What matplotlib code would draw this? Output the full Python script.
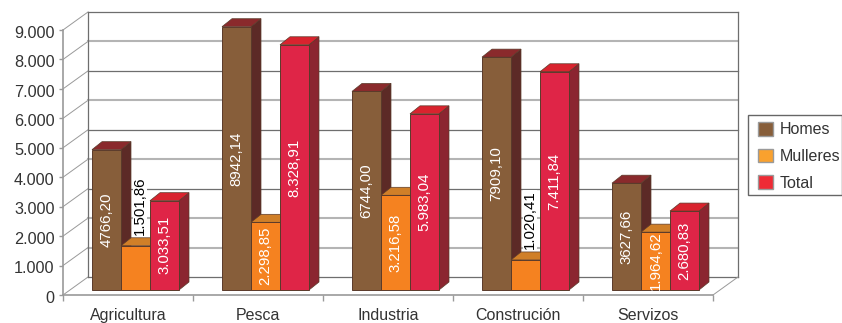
import matplotlib
matplotlib.use('Agg')
import matplotlib.pyplot as plt
from matplotlib.patches import Patch, Polygon, Rectangle
from matplotlib.transforms import ScaledTranslation
import numpy as np

categories = ['Agricultura', 'Pesca', 'Industria', 'Construción', 'Servizos']
homes = [4766.20, 8942.14, 6744.00, 7909.10, 3627.66]
mulleres = [1501.86, 2298.85, 3216.58, 1020.41, 1964.62]
total = [3033.51, 8328.91, 5983.04, 7411.84, 2680.83]
homes_labels = ['4766,20', '8942,14', '6744,00', '7909,10', '3627,66']
mulleres_labels = ['1.501,86', '2.298,85', '3.216,58', '1.020,41', '1.964,62']
total_labels = ['3.033,51', '8.328,91', '5.983,04', '7.411,84', '2.680,83']
yticks = [0, 1000, 2000, 3000, 4000, 5000, 6000, 7000, 8000, 9000]
ytick_labels = ['0', '1.000', '2.000', '3.000', '4.000', '5.000', '6.000', '7.000', '8.000', '9.000']
light_lines = [1000, 2000, 4000, 6000, 8000]

W, H = 842, 323
plt.rcParams['font.family'] = ['Liberation Sans', 'DejaVu Sans']

fig = plt.figure(figsize=(W / 100, H / 100), dpi=100)
# axes = frente do eixo, en pixels da imaxe
ax = fig.add_axes([63 / W, 1 - 295 / H, 650 / W, 265 / H])
ax.set_xlim(0, 5)
ax.set_ylim(0, 9000)

px = 5 / 650        # 1 pixel en x
py = 9000 / 265     # 1 pixel en y

# parede do fondo
dark = '#6e6e6e'
light = '#b4b4b4'
wall_dx, wall_dy = 25 * px, 18 * py
for t in yticks:
    ax.plot([0, wall_dx], [t, t + wall_dy], color='#999999', lw=0.7, clip_on=False, zorder=1)
    if t in light_lines:
        ax.plot([wall_dx, 5 + wall_dx], [t + wall_dy, t + wall_dy], color=light, lw=1.5, clip_on=False, zorder=1)
    else:
        ax.plot([wall_dx, 5 + wall_dx], [t + wall_dy, t + wall_dy], color=dark, lw=0.9, clip_on=False, zorder=1)
ax.plot([wall_dx, wall_dx], [wall_dy, 9000 + wall_dy], color=dark, lw=0.9, clip_on=False, zorder=1)
ax.plot([5 + wall_dx, 5 + wall_dx], [wall_dy, 9000 + wall_dy], color=dark, lw=0.9, clip_on=False, zorder=1)
ax.plot([5, 5 + wall_dx], [0, wall_dy], color='#999999', lw=0.7, clip_on=False, zorder=1)

series = [
    (homes, homes_labels, '#875e3a', '#8a2a2c', '#5c2a26'),
    (mulleres, mulleres_labels, '#f58220', '#d07f28', '#a86420'),
    (total, total_labels, '#df2547', '#d9232e', '#8b2530'),
]

bar_w = 29 * px
bar_dx, bar_dy = 10 * px, 8 * py
base = 5 * py
start = 29 * px
edge = '#5a3a2a'

for s, (vals, labels, front, top, side) in enumerate(series):
    xs = np.arange(5) + start + s * bar_w
    for x, v in zip(xs, vals):
        y1 = v + base
        ax.add_patch(Polygon([(x + bar_w, base), (x + bar_w + bar_dx, base + bar_dy),
                              (x + bar_w + bar_dx, y1 + bar_dy), (x + bar_w, y1)],
                             fc=side, ec=edge, lw=0.5, clip_on=False, zorder=3 + s))
        ax.add_patch(Polygon([(x, y1), (x + bar_dx, y1 + bar_dy),
                              (x + bar_w + bar_dx, y1 + bar_dy), (x + bar_w, y1)],
                             fc=top, ec=edge, lw=0.5, clip_on=False, zorder=3 + s))
    bars = ax.bar(xs, vals, width=bar_w, bottom=base, align='edge', color=front, edgecolor=edge, lw=0.7, zorder=3.5 + s)
    for b in bars:
        b.set_clip_on(False)
    for x, v, lab in zip(xs, vals, labels):
        if lab in ('1.501,86', '1.020,41'):
            # non cabe na barra: negro por riba, con fondo branco
            ax.text(x + bar_w / 2 + 4.5 * px, v + base + bar_dy + 3 * py, lab, rotation=90, ha='center', va='bottom',
                    color='black', fontsize=10.8, zorder=10,
                    bbox=dict(fc='white', ec='none', pad=0.2))
        else:
            ax.text(x + bar_w / 2, base + v / 2, lab, rotation=90, ha='center', va='center',
                    color='white', fontsize=10.8, zorder=10)

# eixos
for sp in ['top', 'right']:
    ax.spines[sp].set_visible(False)
ax.patch.set_alpha(0)
ax.spines['left'].set_color('#9a9a9a')
ax.spines['bottom'].set_color('#9a9a9a')
ax.spines['left'].set_linewidth(1.2)
ax.spines['bottom'].set_linewidth(1.2)
ax.set_yticks(yticks, ytick_labels, fontsize=11.7, color='#333333')
ax.set_xticks(np.arange(6))
ax.set_xticklabels([])
ax.set_xticks(np.arange(5) + 0.5, categories, minor=True, fontsize=11.5, color='#333333')
ax.tick_params(axis='x', which='major', length=4, color='#9a9a9a', width=1)
ax.tick_params(axis='x', which='minor', length=0, pad=9.5)
ax.tick_params(axis='y', length=3, color='#9a9a9a', pad=3, width=1)
for lab in ax.get_yticklabels():
    lab.set_transform(lab.get_transform() + ScaledTranslation(0, -1.2 / 72, fig.dpi_scale_trans))

# lenda: caixa á parte para que chegue ao bordo da imaxe
fig.add_artist(Rectangle((748 / W, 1 - 195 / H), 94 / W, 80 / H, transform=fig.transFigure,
                         fc='white', ec='#666666', lw=1))
handles = [Patch(fc='#875e3a', ec='#9a9a9a', label='Homes'),
           Patch(fc='#f9a12e', ec='#9a9a9a', label='Mulleres'),
           Patch(fc='#ee2b35', ec='#9a9a9a', label='Total')]
fig.legend(handles=handles, loc='upper left', bbox_to_anchor=(758 / W, 1 - 122 / H),
           fontsize=11.5, frameon=False, labelcolor='#333333',
           handlelength=0.94, handleheight=0.94, handletextpad=0.44,
           labelspacing=0.71, borderpad=0, borderaxespad=0)

fig.savefig('out.png', dpi=100)
